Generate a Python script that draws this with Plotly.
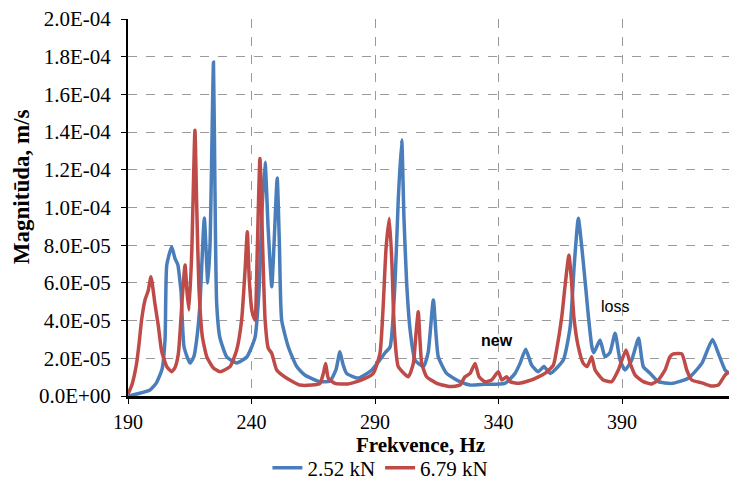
import plotly.graph_objects as go

# Frequency response, 2.52 kN load
freq_252 = [190.0, 194.0, 198.9, 201.5, 203.8, 205.0, 205.7, 207.7, 209.0, 210.2, 211.1, 211.5, 212.7,
            215.1, 216.7, 217.9, 219.1, 220.9, 222.3, 223.2, 224.6, 225.2, 225.9, 227.2,
            230.0, 234.0, 238.1, 241.4, 243.0, 244.3, 245.5, 246.7, 248.2, 249.1, 250.4,
            251.3, 252.2, 254.9, 258.3, 261.7, 267.7, 271.8, 274.2, 275.8, 277.0, 278.5,
            283.2, 288.7, 294.0, 296.1, 298.1, 299.4, 300.8, 301.7, 302.8, 304.2, 306.2,
            309.6, 311.5, 313.6, 315.6, 319.0, 324.4, 328.5, 334.5, 342.6, 346.7, 348.7,
            351.0, 353.4, 356.1, 358.4, 360.9, 366.2, 369.0, 370.6, 372.3, 373.7, 375.0,
            376.4, 377.8, 378.6, 381.1, 383.1, 385.1, 387.2, 389.2, 391.2, 393.9, 396.7,
            398.6, 401.4, 404.7, 410.1, 416.8, 422.3, 426.6, 429.0, 431.7, 433.3]
mag_252 = [0.0, 0.12e-5, 0.32e-5, 0.7e-5, 1.43e-5, 3.0e-5, 6.95e-5, 7.92e-5, 7.3e-5, 6.95e-5, 6.0e-5, 5.5e-5, 2.6e-5,
           1.75e-5, 2.1e-5, 3.1e-5, 4.8e-5, 9.44e-5, 6.0e-5, 8.0e-5, 17.7e-5, 11.0e-5, 4.9e-5, 3.1e-5,
           2.07e-5, 1.75e-5, 2.07e-5, 3.1e-5, 5.5e-5, 10.0e-5, 12.4e-5, 9.0e-5, 5.8e-5, 8.0e-5, 11.56e-5,
           8.0e-5, 4.03e-5, 2.6e-5, 1.56e-5, 1.1e-5, 0.76e-5, 0.8e-5, 1.4e-5, 2.35e-5, 1.7e-5, 1.2e-5,
           0.95e-5, 1.38e-5, 2.28e-5, 2.6e-5, 6.0e-5, 10.4e-5, 13.6e-5, 9.5e-5, 6.0e-5, 3.5e-5, 1.9e-5,
           1.56e-5, 2.3e-5, 5.09e-5, 2.08e-5, 1.2e-5, 0.76e-5, 0.58e-5, 0.62e-5, 0.67e-5, 1.2e-5, 1.73e-5,
           2.48e-5, 1.64e-5, 1.29e-5, 1.56e-5, 1.2e-5, 1.9e-5, 3.67e-5, 6.86e-5, 9.43e-5, 7.9e-5, 6.15e-5,
           4.2e-5, 2.6e-5, 2.3e-5, 2.97e-5, 2.08e-5, 2.3e-5, 3.33e-5, 1.9e-5, 1.38e-5, 1.9e-5, 3.06e-5,
           1.56e-5, 1.2e-5, 0.76e-5, 0.67e-5, 0.94e-5, 1.73e-5, 3.0e-5, 2.26e-5, 1.38e-5, 1.2e-5]

# Frequency response, 6.79 kN load
freq_679 = [190.0, 191.6, 193.5, 194.5, 195.5, 196.9, 198.2, 199.3, 200.9, 202.3, 203.6,
            205.7, 207.7, 209.0, 210.4, 212.0, 213.1, 213.9, 214.7, 215.8, 217.1, 217.8,
            218.7, 220.1, 221.9, 224.5, 227.2, 231.3, 234.0, 236.0, 237.4, 238.3, 239.1,
            240.2, 241.4, 242.3, 243.4, 244.4, 245.5, 246.8, 248.2, 250.2, 254.3, 259.6,
            264.4, 267.7, 269.1, 270.0, 271.1, 273.8, 279.2, 284.6, 289.3, 292.0, 293.2,
            294.5, 295.8, 296.9, 297.4, 298.1, 299.4, 303.5, 305.5, 306.6, 307.5, 308.2,
            308.9, 310.9, 315.0, 320.4, 324.4, 326.4, 328.5, 330.5, 332.1, 334.5, 337.2,
            339.9, 341.3, 343.3, 344.7, 348.0, 353.4, 358.8, 362.2, 363.5, 365.6, 366.9,
            368.5, 369.6, 370.5, 372.3, 374.3, 375.9, 377.7, 379.1, 382.4, 385.8, 388.5,
            391.6, 393.3, 395.3, 398.6, 402.0, 404.7, 407.4, 409.4, 410.8, 414.2, 416.2,
            418.2, 422.3, 426.3, 429.0, 431.7, 433.3]
mag_679 = [0.1e-5, 0.6e-5, 1.75e-5, 2.8e-5, 4.03e-5, 5.1e-5, 5.6e-5, 6.33e-5, 4.9e-5, 3.7e-5, 2.4e-5,
           1.56e-5, 1.29e-5, 1.5e-5, 2.26e-5, 5.27e-5, 6.95e-5, 5.5e-5, 4.56e-5, 7.6e-5, 14.1e-5, 10.2e-5,
           5.8e-5, 3.15e-5, 2.08e-5, 1.5e-5, 1.29e-5, 1.56e-5, 2.44e-5, 4.03e-5, 6.7e-5, 8.72e-5, 6.15e-5,
           4.5e-5, 4.03e-5, 7.57e-5, 12.6e-5, 8.45e-5, 4.03e-5, 2.53e-5, 2.26e-5, 1.38e-5, 0.94e-5, 0.58e-5,
           0.58e-5, 0.67e-5, 1.2e-5, 1.73e-5, 0.94e-5, 0.67e-5, 0.64e-5, 0.85e-5, 1.2e-5, 2.26e-5, 4.5e-5,
           7.9e-5, 9.43e-5, 6.86e-5, 4.74e-5, 2.97e-5, 1.56e-5, 1.02e-5, 1.73e-5, 3.33e-5, 4.47e-5, 2.97e-5,
           1.73e-5, 1.02e-5, 0.67e-5, 0.5e-5, 0.58e-5, 1.02e-5, 1.2e-5, 1.73e-5, 1.02e-5, 0.76e-5, 0.85e-5,
           1.29e-5, 0.85e-5, 1.02e-5, 0.76e-5, 0.67e-5, 0.85e-5, 1.2e-5, 1.64e-5, 2.44e-5, 4.2e-5, 5.8e-5,
           7.48e-5, 5.98e-5, 4.2e-5, 2.6e-5, 1.73e-5, 1.56e-5, 2.08e-5, 1.38e-5, 0.85e-5, 0.76e-5, 1.38e-5,
           2.44e-5, 1.73e-5, 1.11e-5, 0.76e-5, 0.64e-5, 0.85e-5, 1.38e-5, 2.08e-5, 2.23e-5, 2.23e-5, 1.38e-5,
           0.85e-5, 0.7e-5, 0.53e-5, 0.58e-5, 1.11e-5, 1.29e-5]

y_tick_vals = [0, 2e-5, 4e-5, 6e-5, 8e-5, 1e-4, 1.2e-4, 1.4e-4, 1.6e-4, 1.8e-4, 2e-4]
y_tick_text = ["0.0E+00", "2.0E-05", "4.0E-05", "6.0E-05", "8.0E-05", "1.0E-04",
               "1.2E-04", "1.4E-04", "1.6E-04", "1.8E-04", "2.0E-04"]
x_tick_vals = [190, 240, 290, 340, 390]

series_names = ["2.52 kN", "6.79 kN"]
x_title = "Frekvence, Hz"
y_title = "Magnitūda, m/s"
notes = [("new", 339.4, 2.97e-5, True), ("loss", 387.2, 4.77e-5, False)]

BLUE = "#4A7EBB"
RED = "#BE4B48"
SERIF = "Liberation Serif"
SANS = "Liberation Sans"

fig = go.Figure()
fig.add_trace(go.Scatter(x=freq_252, y=mag_252, mode="lines", name=series_names[0],
                         line=dict(color=BLUE, width=3.5, shape="spline", smoothing=0.5)))
fig.add_trace(go.Scatter(x=freq_679, y=mag_679, mode="lines", name=series_names[1],
                         line=dict(color=RED, width=3.5, shape="spline", smoothing=0.5)))

for text, fx, fy, bold in notes:
    fig.add_annotation(x=fx, y=fy, text=f"<b>{text}</b>" if bold else text, showarrow=False,
                       font=dict(family=SANS, size=16, color="black"))

# Axis titles placed as paper-anchored annotations
fig.add_annotation(xref="paper", yref="paper", x=0.487, y=-0.13, text=f"<b>{x_title}</b>",
                   showarrow=False, xanchor="center", yanchor="middle",
                   font=dict(family=SERIF, size=21, color="black"))
fig.add_annotation(xref="paper", yref="paper", x=-0.178, y=0.554, text=f"<b>{y_title}</b>",
                   showarrow=False, textangle=-90, xanchor="center", yanchor="middle",
                   font=dict(family=SERIF, size=23, color="black"))

grid = dict(showgrid=True, gridcolor="#9a9a9a", griddash="dash", gridwidth=1)

fig.update_layout(
    width=729, height=481,
    margin=dict(l=128, r=0, t=19, b=85, autoexpand=False),
    paper_bgcolor="white", plot_bgcolor="white",
    font=dict(family=SERIF, size=21, color="black"),
    showlegend=True,
    legend=dict(orientation="h", x=0.42, xanchor="center", yref="container", y=0.027,
                yanchor="middle", font=dict(family=SERIF, size=21, color="black"),
                itemwidth=30, tracegroupgap=0),
    xaxis=dict(range=[190, 433.3], tickvals=x_tick_vals, ticks="outside", ticklen=5,
               tickcolor="black", showline=True, linecolor="black", linewidth=3,
               tickfont=dict(family=SERIF, size=20, color="black"), ticklabelstandoff=1,
               zeroline=False, automargin=False, **grid),
    yaxis=dict(range=[0, 2e-4], tickvals=y_tick_vals, ticktext=y_tick_text, ticks="outside",
               ticklen=5, tickcolor="black", showline=True, linecolor="black", linewidth=2,
               tickfont=dict(family=SERIF, size=21, color="black"), ticklabelstandoff=6,
               zeroline=False, automargin=False, **grid),
)

fig.write_html("out.html")
